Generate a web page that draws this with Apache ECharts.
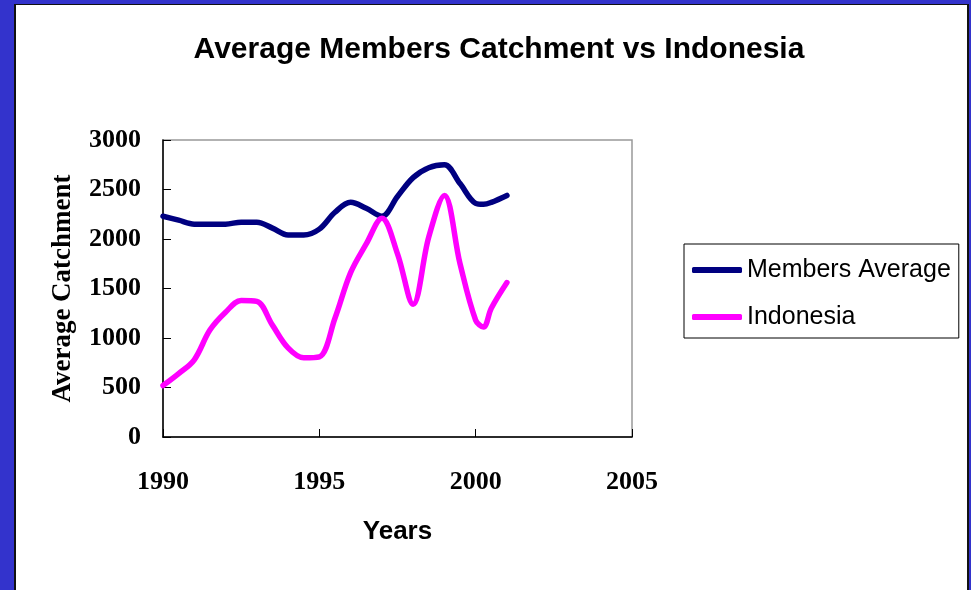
<!DOCTYPE html>
<html>
<head>
<meta charset="utf-8">
<script src="https://cdn.jsdelivr.net/npm/echarts@6/dist/echarts.min.js"></script>
<style>
  html, body { margin: 0; padding: 0; }
  body { width: 971px; height: 590px; background: #3333cc; position: relative; overflow: hidden; }
  .panel {
    position: absolute; left: 14px; top: 4px; width: 951px; height: 590px;
    background: #fff; border-left: 2px solid #111; border-top: 1px solid #111; border-right: 2px solid #111;
  }
  #main { position: absolute; left: 0; top: 0; width: 971px; height: 590px; }
</style>
</head>
<body>
<div class="panel"></div>
<div id="main"></div>
<script>
// years sampled every half year
var years = [1990, 1990.5, 1991, 1991.5, 1992, 1992.5, 1993, 1993.5, 1994, 1994.5, 1995, 1995.5,
  1996, 1996.5, 1997, 1997.5, 1998, 1998.5, 1999, 1999.5, 2000, 2000.25, 2000.5, 2001];
var membersAverage = [2230, 2190, 2150, 2150, 2150, 2170, 2170, 2110, 2040, 2040, 2100, 2270,
  2370, 2310, 2230, 2430, 2620, 2720, 2750, 2560, 2360, 2350, 2370, 2440];
var indonesia = [520, 640, 780, 1080, 1260, 1380, 1370, 1130, 900, 800, 810, 1200,
  1660, 1950, 2210, 1850, 1340, 2020, 2440, 1750, 1180, 1110, 1300, 1560];
var xTicks = [1990, 1995, 2000, 2005];
var yTicks = [0, 500, 1000, 1500, 2000, 2500, 3000];

function pairs(vals) {
  return years.map(function (y, i) { return [y, vals[i]]; });
}

var chart = echarts.init(document.getElementById('main'), null, { renderer: 'canvas' });

var serif = '"Liberation Serif", "Times New Roman", serif';
var sans = '"Liberation Sans", Arial, sans-serif';

var option = {
  backgroundColor: 'transparent',
  animation: false,
  title: {
    text: 'Average Members Catchment vs Indonesia',
    left: 494, top: 30, textAlign: 'center',
    textStyle: { fontFamily: sans, fontWeight: 'bold', fontSize: 30, color: '#000' }
  },
  legend: {
    orient: 'vertical',
    left: 684, top: 244,
    padding: [13, 8, 8, 8],
    itemWidth: 50, itemHeight: 6, itemGap: 21,
    icon: 'roundRect',
    borderColor: '#000', borderWidth: 1,
    textStyle: { fontFamily: sans, fontSize: 25, color: '#000', lineHeight: 26 },
    data: ['Members Average', 'Indonesia']
  },
  grid: {
    left: 163, top: 140, right: 339, bottom: 153,
    show: true, borderColor: '#999', borderWidth: 1.5
  },
  xAxis: {
    type: 'value',
    min: xTicks[0], max: xTicks[xTicks.length - 1], interval: 5,
    name: 'Years', nameLocation: 'middle', nameGap: 82,
    nameTextStyle: { fontFamily: sans, fontWeight: 'bold', fontSize: 26, color: '#000' },
    axisLine: { lineStyle: { color: '#000', width: 1.5 } },
    axisTick: { inside: true, length: 8, lineStyle: { color: '#000' } },
    axisLabel: {
      margin: 32, fontFamily: serif, fontWeight: 'bold', fontSize: 26, color: '#000',
      formatter: function (v) { return String(v); }
    },
    splitLine: { show: false }
  },
  yAxis: {
    type: 'value',
    min: yTicks[0], max: yTicks[yTicks.length - 1], interval: 500,
    name: 'Average Catchment', nameLocation: 'middle', nameGap: 86,
    nameTextStyle: { fontFamily: serif, fontWeight: 'bold', fontSize: 27, color: '#000' },
    axisLine: { show: true, lineStyle: { color: '#000', width: 1.5 } },
    axisTick: { show: true, inside: true, length: 8, lineStyle: { color: '#000' } },
    axisLabel: {
      margin: 22, fontFamily: serif, fontWeight: 'bold', fontSize: 26, color: '#000',
      formatter: function (v) { return String(v); }
    },
    splitLine: { show: false }
  },
  series: [
    {
      name: 'Members Average', type: 'line', smooth: 0.35, showSymbol: false,
      data: pairs(membersAverage),
      itemStyle: { color: '#000080' },
      lineStyle: { color: '#000080', width: 5.5, cap: 'round' }
    },
    {
      name: 'Indonesia', type: 'line', smooth: 0.35, showSymbol: false,
      data: pairs(indonesia),
      itemStyle: { color: '#ff00ff' },
      lineStyle: { color: '#ff00ff', width: 5.5, cap: 'round' }
    }
  ]
};

chart.setOption(option);
</script>
</body>
</html>
